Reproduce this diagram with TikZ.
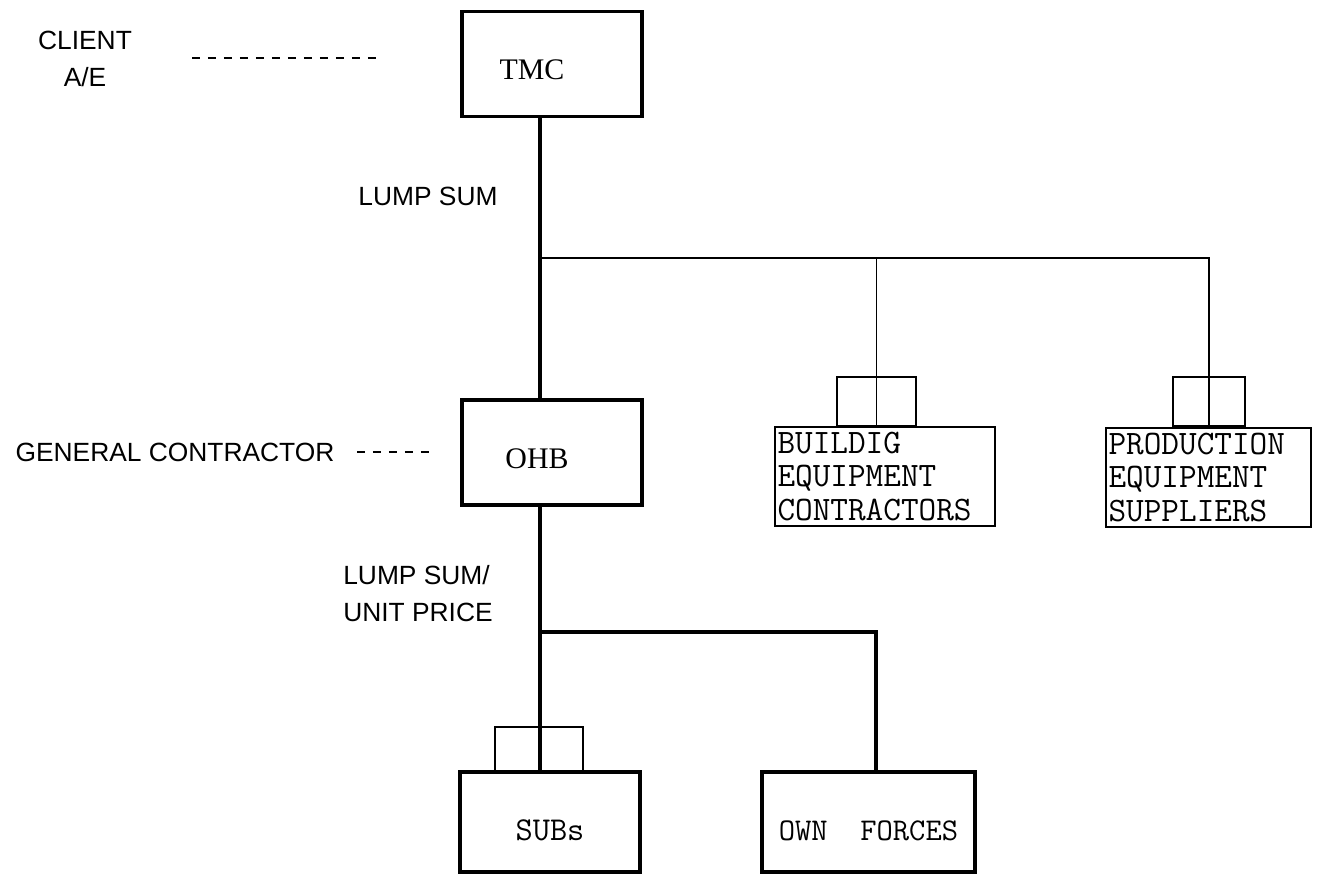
\documentclass[tikz,border=0pt]{standalone}
\usepackage{fontspec}
\setmainfont{Liberation Serif}
\setsansfont{Liberation Sans}
\usepackage{tikz}
\usetikzlibrary{positioning,calc}
\tikzset{
  mainbox/.style={
    rectangle, draw=black, line width=2.2pt,
    minimum width=3.6cm, minimum height=2.1cm, text centered,
    text height=0.62cm, text depth=0pt,
    font=\fontsize{17}{20}\selectfont
  },
  supbox/.style={
    rectangle, draw=black, line width=1.2pt, inner sep=1.5pt,
    minimum height=1.98cm, align=left,
    font=\ttfamily\fontsize{19.5}{19}\selectfont
  },
  forkbox/.style={
    rectangle, draw=black, line width=1.1pt,
    minimum height=0.98cm, anchor=south
  },
  rolelbl/.style={font=\sffamily\fontsize{15}{21}\selectfont, align=center},
  trunk/.style={line width=1.8pt},
  branch/.style={line width=1.1pt},
  leader/.style={line width=1.1pt, dash pattern=on 4.5pt off 4.6pt}
}
\begin{document}
\begin{tikzpicture}
  \useasboundingbox (0,0) rectangle (26.5,-17.56);

  % Client level
  \node[rolelbl] (client) at (1.7,-1.17) {CLIENT\\A/E};
  \coordinate (cldashA) at (3.84,-1.16);
  \coordinate (cldashB) at (7.66,-1.16);
  \node[mainbox] (tmc) at (11.04,-1.28) {TMC\hspace*{0.8cm}};
  \node[rolelbl] (ls1) at (8.56,-3.92) {LUMP SUM};
  \coordinate (j1) at (10.8,-5.16);

  % General contractor level
  \node[rolelbl] (gc) at (3.5,-9.04) {GENERAL CONTRACTOR};
  \coordinate (gcdashA) at (7.14,-9.04);
  \coordinate (gcdashB) at (8.6,-9.04);
  \node[mainbox] (ohb) at (11.04,-9.05) {OHB\hspace*{0.6cm}};

  % Equipment side
  \node[supbox, minimum width=4.4cm, text width=4.3cm] (bec) at (17.7,-9.53)
    {BUILDIG\\EQUIPMENT\\CONTRACTORS};
  \node[forkbox, minimum width=1.58cm] (becfork) at (17.53,-8.54) {};
  \node[supbox, minimum width=4.1cm, text width=4.0cm] (pes) at (24.17,-9.55)
    {PRODUCTION\\EQUIPMENT\\SUPPLIERS};
  \node[forkbox, minimum width=1.44cm] (pesfork) at (24.18,-8.54) {};

  % Lower level
  \node[rolelbl, align=left] (ls2) at (8.36,-11.88) {LUMP SUM/\\UNIT PRICE};
  \coordinate (j2) at (10.8,-12.64);
  \coordinate (j3) at (17.52,-12.64);
  \node[mainbox, minimum height=2.0cm, text height=0.75cm,
        font=\ttfamily\fontsize{19}{20}\selectfont] (subs) at (11,-16.44) {SUBs};
  \node[forkbox, minimum width=1.76cm, minimum height=0.88cm] (subsfork) at (10.78,-15.44) {};
  \node[mainbox, minimum width=4.26cm, minimum height=2.0cm, text height=0.75cm,
        font=\ttfamily\fontsize{18}{20}\selectfont] (own) at (17.37,-16.44) {OWN\ \ FORCES};

  % Leaders
  \draw[leader] (cldashA) -- (cldashB);
  \draw[leader] (gcdashA) -- (gcdashB);

  % Lines
  \draw[trunk] (j1 |- tmc.south) -- (j1 |- ohb.north);
  \draw[branch] (j1) -| (pesfork.north);
  \draw[branch] (j1 -| becfork) -- (becfork.north);
  \draw[branch] (becfork.north) -- (becfork.south);
  \draw[branch] (pesfork.north) -- (pesfork.south);
  \draw[trunk] (j2 |- ohb.south) -- (j2 |- subs.north);
  \draw[trunk] (j2) -- (j3) -- (j3 |- own.north);
\end{tikzpicture}
\end{document}
